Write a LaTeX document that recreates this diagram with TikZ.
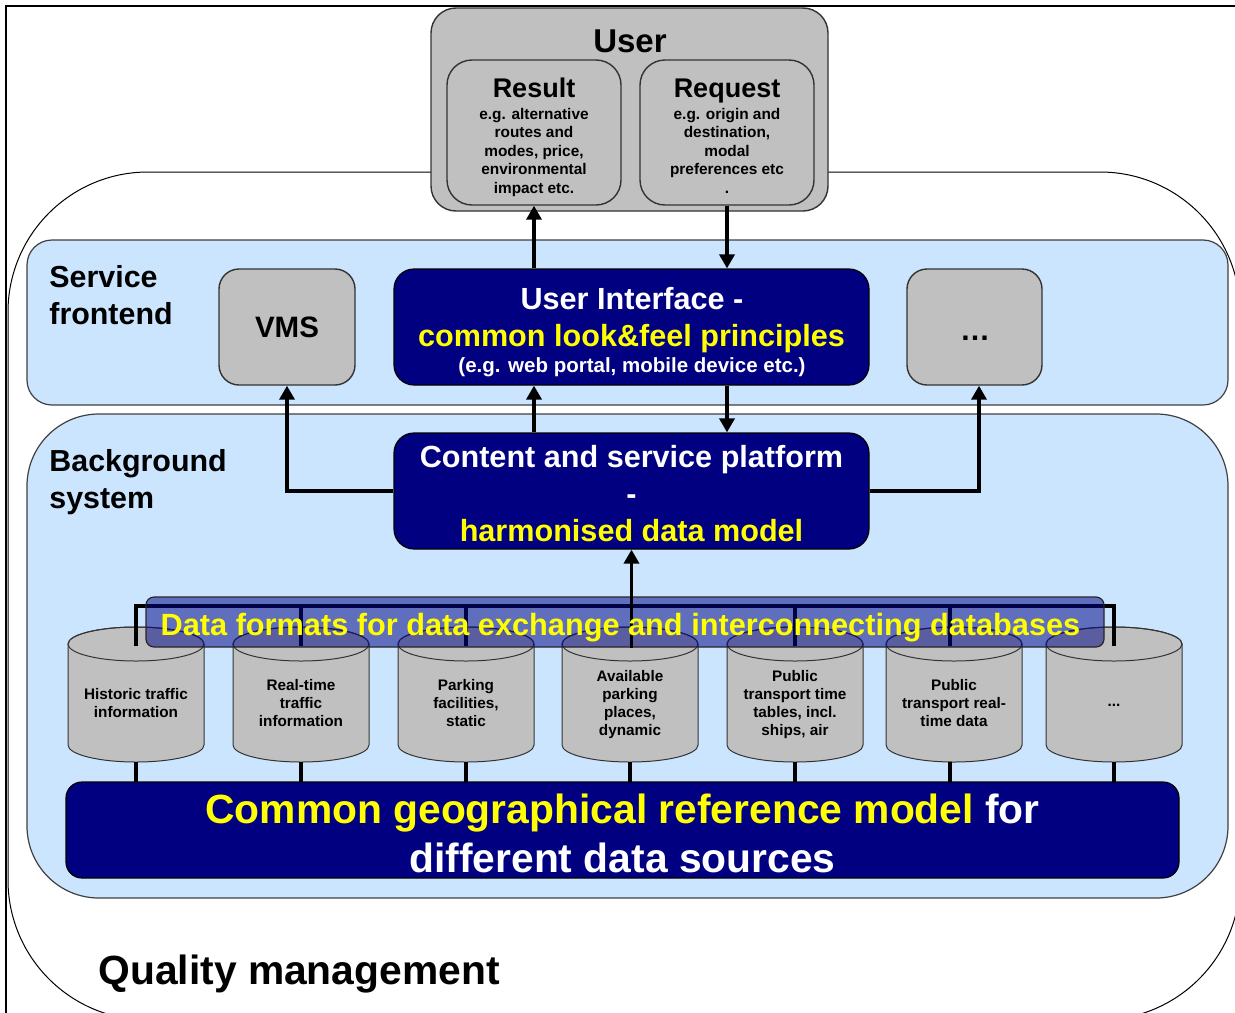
\documentclass[tikz,border=0pt]{standalone}
\usepackage{fontspec}
\setmainfont{Liberation Sans}
\usetikzlibrary{arrows.meta}
\definecolor{lblue}{RGB}{204,229,255}
\definecolor{gbox}{RGB}{192,192,192}
\definecolor{navyb}{RGB}{0,0,128}
\definecolor{yel}{RGB}{255,255,0}
\definecolor{barc}{RGB}{0,6,133}
\newcommand\myfs[2]{\fontsize{#1pt}{#2pt}\selectfont\bfseries}
\begin{document}
\begin{tikzpicture}[x=0.5pt,y=-0.5pt,
  band/.style={draw=black!75, line width=0.6pt, fill=lblue, inner sep=0pt},
  graybox/.style={draw=black!80, line width=0.7pt, fill=gbox, inner sep=0pt},
  navybox/.style={draw=black, line width=0.6pt, fill=navyb, inner sep=0pt},
  lbl/.style={inner sep=0pt, align=center},
  arr/.style={line width=1.75pt, -{Triangle[width=7.5pt,length=7pt]}},
  bus/.style={line width=1.6pt},
  cylline/.style={draw=black!80, line width=0.5pt}
]
\clip (0,0) rectangle (1235,1012);
% outer frame
\draw[line width=1.3pt] (6,6) rectangle (1300,1100);
% quality management shape
\node[draw=black, line width=0.5pt, rounded corners=70pt, minimum width=616pt, minimum height=424pt, inner sep=0pt] (quality) at (624,596) {};
% bands
\node[band, rounded corners=12.5pt, minimum width=600.5pt, minimum height=82.5pt] (service) at (627.5,322.5) {};
\node[band, rounded corners=36pt, minimum width=600.5pt, minimum height=242pt] (background) at (627.5,656) {};
% user
\node[graybox, rounded corners=12.5pt, minimum width=198.5pt, minimum height=101.5pt] (user) at (629.5,109.5) {};
\node[graybox, rounded corners=12.5pt, minimum width=87pt, minimum height=72.5pt] (result) at (534,132.5) {};
\node[graybox, rounded corners=12.5pt, minimum width=87pt, minimum height=72.5pt] (request) at (727,132.5) {};
\node[lbl, anchor=base, font=\myfs{16.5}{20}] (usert) at (630,52) {User};
\node[lbl, anchor=base, font=\myfs{13.5}{16}] (rest) at (534,97.6) {Result};
\node[lbl, anchor=north, font=\myfs{7.7}{9.25}] (resd) at (534,107.5) {e.g. alternative\\routes and\\modes, price,\\environmental\\impact etc.};
\node[lbl, anchor=base, font=\myfs{13.5}{16}] (reqt) at (727,97.6) {Request};
\node[lbl, anchor=north, font=\myfs{7.7}{9.25}] (reqd) at (727,107.5) {e.g. origin and\\destination,\\modal\\preferences etc\\.};
% service frontend
\node[lbl, align=left, anchor=north west, font=\myfs{15.2}{18.5}] (sft) at (49,265) {Service\\frontend};
\node[graybox, rounded corners=10pt, minimum width=68pt, minimum height=58pt, font=\myfs{14.75}{18}] (vms) at (287,327) {VMS};
\node[navybox, rounded corners=10pt, minimum width=237.5pt, minimum height=58pt] (ui) at (631.5,327) {};
\node[graybox, rounded corners=10pt, minimum width=67.5pt, minimum height=58pt] (dots) at (974.5,327) {};
\node[lbl, anchor=base, text=white, font=\myfs{15.3}{18}] (ui1) at (632,309) {User Interface -};
\node[lbl, anchor=base, text=yel, font=\myfs{15.3}{18}] (ui2) at (631.5,346) {common look\&feel principles};
\node[lbl, anchor=base, text=white, font=\myfs{10.25}{12}] (ui3) at (632,372) {(e.g. web portal, mobile device etc.)};
\node[lbl, anchor=base, font=\myfs{15}{18}] (dotst) at (975,340) {…};
% background system
\node[lbl, align=left, anchor=north west, font=\myfs{15.2}{18.5}] (bgt) at (49,449) {Background\\system};
\node[navybox, rounded corners=10pt, minimum width=237.5pt, minimum height=58pt] (content) at (631.5,491) {};
\node[lbl, anchor=north, text=white, font=\myfs{15.3}{18.5}] (contt) at (631.5,445) {Content and service platform\\-\\\textcolor{yel}{harmonised data model}};
% arrows between user, ui, content
\draw[arr] (result.south |- ui.north) -- (result.south);
\draw[arr] (request.south) -- (request.south |- ui.north);
\draw[arr] (result.south |- content.north) -- (result.south |- ui.south);
\draw[arr] (request.south |- ui.south) -- (request.south |- content.north);
\draw[arr] (content.west) -| (vms.south);
\draw[arr] (content.east) -| ([xshift=2.25pt]dots.south);
% cylinders
\foreach \n/\cx in {1/136,2/301,3/466,4/630,5/795,6/954,7/1114} {
  \filldraw[cylline, fill=gbox] (\cx-68,644) -- (\cx-68,745) arc[start angle=180, end angle=0, x radius=68, y radius=17] -- (\cx+68,644) arc[start angle=0, end angle=-180, x radius=68, y radius=17] -- cycle;
  \draw[cylline] (\cx,644) ellipse[x radius=68, y radius=17];
}
\foreach \n/\cx in {1/136,2/301,3/466,4/630,5/795,6/950,7/1114} {
  \coordinate (ct\n) at (\cx,646);
  \coordinate (cb\n) at (\cx,762);
}
\node[lbl, font=\myfs{7.65}{9}] (cyl1) at (136,703.5) {Historic traffic\\information};
\node[lbl, font=\myfs{7.65}{9}] (cyl2) at (301,703.5) {Real-time\\traffic\\information};
\node[lbl, font=\myfs{7.65}{9}] (cyl3) at (466,703.5) {Parking\\facilities,\\static};
\node[lbl, font=\myfs{7.65}{9}] (cyl4) at (630,704.5) {Available\\parking\\places,\\dynamic};
\node[lbl, font=\myfs{7.65}{9}] (cyl5) at (795,704.5) {Public\\transport time\\tables, incl.\\ships, air};
\node[lbl, font=\myfs{7.65}{9}] (cyl6) at (954,703.5) {Public\\transport real-\\time data};
\node[lbl, font=\myfs{7.65}{9}] (cyl7) at (1114,705) {...};
% bus lines
\draw[bus] (ct1) -- (136,606) -- (1114,606) -- (ct7);
\foreach \n in {2,3,5,6} \draw[bus] (ct\n) -- (ct\n |- 0,606);
% data formats bar
\node[draw=black!85, line width=0.6pt, fill=barc, fill opacity=0.53, rounded corners=4pt, minimum width=479pt, minimum height=25pt, inner sep=0pt] (bar) at (625,622) {};
\draw[arr] (content.south |- bar.south) -- (content.south);
\node[lbl, anchor=base, text=yel, font=\myfs{15.35}{18}] (bart) at (620.5,635) {Data formats for data exchange and interconnecting databases};
% common geo reference
\foreach \n in {1,...,7} \draw[bus] (cb\n) -- (cb\n |- 0,782);
\node[navybox, rounded corners=8pt, minimum width=556.5pt, minimum height=48pt] (geo) at (622.5,830) {};
\node[lbl, anchor=north, text=white, font=\myfs{20.4}{24.5}] (geot) at (622.5,793.5) {\textcolor{yel}{Common geographical reference model} for\\different data sources};
% quality management label
\node[lbl, anchor=base west, font=\myfs{20.4}{24}] (qmt) at (98,984) {Quality management};
\end{tikzpicture}
\end{document}
